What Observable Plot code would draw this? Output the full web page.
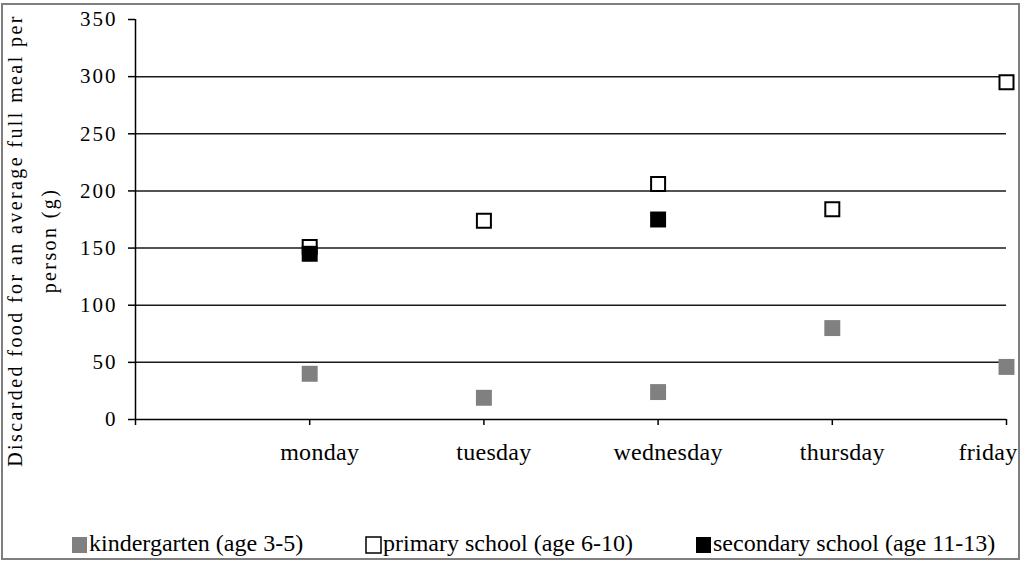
<!DOCTYPE html>
<html>
<head>
<meta charset="utf-8">
<script src="https://cdn.jsdelivr.net/npm/d3@7"></script>
<script src="https://cdn.jsdelivr.net/npm/@observablehq/plot@0.6"></script>
<style>
  html, body { margin: 0; padding: 0; background: #fff; }
  #wrap { position: relative; width: 1024px; height: 562px; overflow: hidden; background: #fff;
          font-family: 'Liberation Serif', 'Times New Roman', serif; }
  #frame { position: absolute; left: 1px; top: 3px; width: 1019px; height: 557px; box-sizing: border-box;
           border: 2px solid #7f7f7f; pointer-events: none; }
  #chart { position: absolute; left: 0; top: 0; }
  #legend { position: absolute; left: 0; top: 500px; }
</style>
</head>
<body>
<div id="wrap">
  <div id="chart"></div>
  <svg id="legend" width="1024" height="62"></svg>
  <div id="frame"></div>
</div>
<script>
// ---- data ----
const days = ["monday", "tuesday", "wednesday", "thursday", "friday"];
const kindergarten = [40, 19, 24, 80, 46];
const primary = [151, 174, 206, 184, 295];
const secondary = [145, null, 175, null, null];
const seriesNames = ["kindergarten (age 3-5)", "primary school (age 6-10)", "secondary school (age 11-13)"];
const yTicks = [0, 50, 100, 150, 200, 250, 300, 350];
const yTitle = "Discarded food for an average full meal per\nperson (g)";

const rows = (vals) => vals.map((v, i) => ({x: i + 1, day: days[i], v})).filter(d => d.v != null);

const font = "'Liberation Serif', 'Times New Roman', serif";

const plot = Plot.plot({
  width: 1024,
  height: 470,
  marginLeft: 135,
  marginRight: 18,
  marginTop: 19,
  marginBottom: 51,
  x: {domain: [0, days.length], axis: null},
  y: {domain: [0, d3.max(yTicks)], axis: null},
  style: {fontFamily: font, color: "#000", background: "transparent", overflow: "visible"},
  marks: [
    Plot.ruleY(yTicks.filter(v => v > 0 && v < d3.max(yTicks)), {stroke: "#1a1a1a", strokeWidth: 1.5}),
    Plot.ruleY([0], {stroke: "#000", strokeWidth: 1.5}),
    Plot.ruleX([0], {stroke: "#000", strokeWidth: 1.5}),
    Plot.axisY({ticks: yTicks, label: null, tickSize: 7, tickPadding: 11, fontSize: 21, strokeWidth: 1.5, stroke: "#000"}),
    Plot.axisX({ticks: d3.range(days.length + 1), label: null, tickSize: 6, tickFormat: () => "", strokeWidth: 1.5, stroke: "#000"}),
    Plot.text(days.slice(0, -1), {x: (d, i) => i + 1, frameAnchor: "bottom", dy: 33, dx: 10,
      lineAnchor: "middle", textAnchor: "middle", fontSize: 24, fill: "#000"}),
    Plot.text(days.slice(-1), {x: () => days.length, frameAnchor: "bottom", dy: 33, dx: 11,
      lineAnchor: "middle", textAnchor: "end", fontSize: 24, fill: "#000"}),
    Plot.text([yTitle], {frameAnchor: "left", rotate: -90, dx: -137, dy: 21, textAnchor: "middle",
      lineAnchor: "top", lineHeight: 1.675, fontSize: 20, fill: "#000"}),
    Plot.dot(rows(kindergarten), {x: "x", y: "v", symbol: "square", r: 9, fill: "#808080", stroke: "none"}),
    Plot.dot(rows(primary), {x: "x", y: "v", symbol: "square", r: 7.9, fill: "#fff", stroke: "#000", strokeWidth: 2}),
    Plot.dot(rows(secondary), {x: "x", y: "v", symbol: "square", r: 9, fill: "#000", stroke: "none"})
  ]
});
document.getElementById("chart").appendChild(plot);

// widen text to match the reference's letter spacing
d3.select(plot).selectAll("text").each(function() {
  const t = this.textContent;
  if (t.startsWith("Discarded")) this.setAttribute("letter-spacing", "2.4");
  else if (/^\d+$/.test(t)) this.setAttribute("letter-spacing", "2");
  else if (days.includes(t)) this.setAttribute("letter-spacing", "0.3");
});

// ---- legend ----
const legendStyles = [
  {fill: "#808080", stroke: "none"},
  {fill: "#fff", stroke: "#000"},
  {fill: "#000", stroke: "none"}
];
const legendX = [72, 366, 696];
const lg = d3.select("#legend");
seriesNames.forEach((name, i) => {
  lg.append("rect").attr("x", legendX[i]).attr("y", 37).attr("width", 15).attr("height", 16)
    .attr("fill", legendStyles[i].fill).attr("stroke", legendStyles[i].stroke).attr("stroke-width", 1.5);
  lg.append("text").attr("x", legendX[i] + 17).attr("y", 51)
    .attr("font-family", font).attr("font-size", 24).attr("fill", "#000").text(name);
});
</script>
</body>
</html>
